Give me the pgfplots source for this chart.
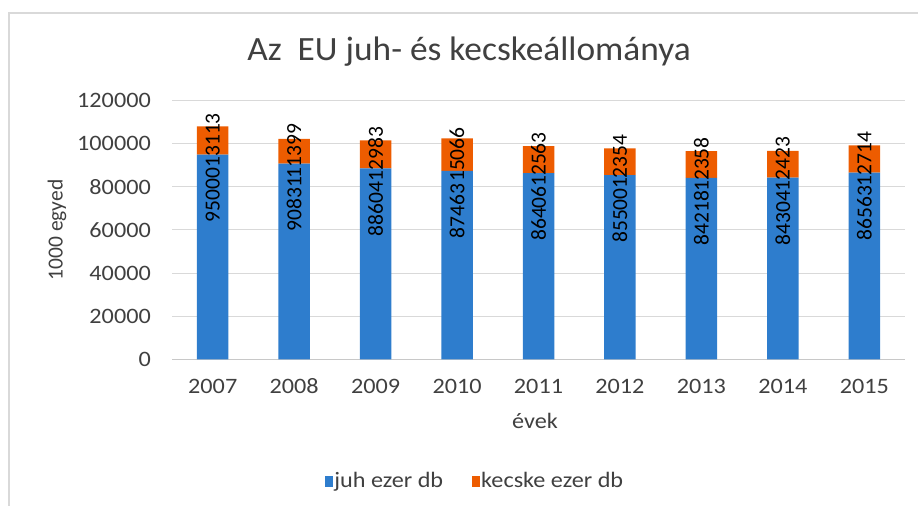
\documentclass[border=0pt]{standalone}
\usepackage{fontspec}
\setmainfont{Carlito}
\newfontfamily\widefont[FakeStretch=1.1]{Carlito}
\newfontfamily\titlefont[FakeStretch=1.04]{Carlito}
\usepackage{pgfplots}
\pgfplotsset{compat=1.18}
\usepackage{pgfplotstable}
\definecolor{juhblue}{RGB}{46,125,205}
\definecolor{kecorange}{RGB}{237,92,0}
\definecolor{gridgray}{RGB}{217,217,217}
\definecolor{axgray}{RGB}{200,200,200}
\definecolor{txtgray}{RGB}{64,64,64}
\newcommand{\lblfont}{\fontsize{21.5bp}{26bp}\selectfont}
\newcommand{\tickfont}{\widefont\fontsize{22bp}{26bp}\selectfont}

\pgfplotstableread{
x year juh kec
0 2007 95000 13113
1 2008 90831 11399
2 2009 88604 12983
3 2010 87463 15066
4 2011 86406 12563
5 2012 85500 12354
6 2013 84218 12358
7 2014 84304 12423
8 2015 86563 12714
}\datatable

\begin{document}
\begin{tikzpicture}[x=1bp,y=1bp]
\useasboundingbox (0,0) rectangle (918,506);
\draw[gridgray, line width=1.5bp] (9,-10) -- (9,493) -- (930,493);
\node[text=txtgray, font=\titlefont\fontsize{34bp}{40bp}\selectfont] at (469,454) {Az\ \ EU juh- és kecskeállománya};
\node[text=txtgray, font=\lblfont, rotate=90] at (57,276) {1000 egyed};
\node[text=txtgray, font=\tickfont] at (535,85) {évek};
\begin{axis}[
  at={(172bp,146.7bp)}, anchor=south west,
  scale only axis, width=733bp, height=258.6bp,
  ybar stacked, bar width=31.5bp,
  xmin=-0.5, xmax=8.5, ymin=0, ymax=120000,
  xtick=data, xticklabels={2007,2008,2009,2010,2011,2012,2013,2014,2015},
  ytick={0,20000,40000,60000,80000,100000,120000},
  yticklabels={0,20000,40000,60000,80000,100000,120000},
  scaled y ticks=false,
  ymajorgrids, grid style={gridgray, line width=1bp},
  axis lines*=left,
  y axis line style={draw=none},
  x axis line style={axgray, line width=1bp},
  major tick length=0pt,
  tick label style={font=\tickfont, text=txtgray},
  yticklabel style={inner sep=0pt, xshift=-21bp},
  xticklabel style={inner sep=0pt, anchor=base, yshift=-34bp},
  legend columns=2,
  legend style={draw=none, fill=none, at={(0.413,-0.471)}, anchor=center,
    font=\tickfont, text=txtgray, nodes={inner xsep=1.5bp},
    /tikz/every even column/.append style={column sep=27bp}},
  legend image code/.code={\fill[#1] (0bp,-5.5bp) rectangle (8bp,5.5bp);},
]
\addplot[fill=juhblue, draw=none] table[x=x, y=juh] {\datatable};
\addlegendentry{juh ezer db}
\addplot[fill=kecorange, draw=none] table[x=x, y=kec] {\datatable};
\addlegendentry{kecske ezer db}
\end{axis}
\begin{axis}[
  at={(172bp,146.7bp)}, anchor=south west,
  scale only axis, width=733bp, height=258.6bp,
  xmin=-0.5, xmax=8.5, ymin=0, ymax=120000,
  hide axis,
]
\addplot[draw=none, mark=none, nodes near coords, point meta=explicit symbolic,
  every node near coord/.append style={rotate=90, anchor=east, inner xsep=13bp, inner ysep=0pt, font=\lblfont, text=black}]
  table[x=x, y=juh, meta=juh] {\datatable};
\addplot[draw=none, mark=none, nodes near coords, point meta=explicit symbolic,
  every node near coord/.append style={rotate=90, anchor=center, inner sep=0pt, font=\lblfont, text=black}]
  table[x=x, y expr=\thisrow{juh}+0.5*\thisrow{kec}, meta=kec] {\datatable};
\end{axis}
\end{tikzpicture}
\end{document}
